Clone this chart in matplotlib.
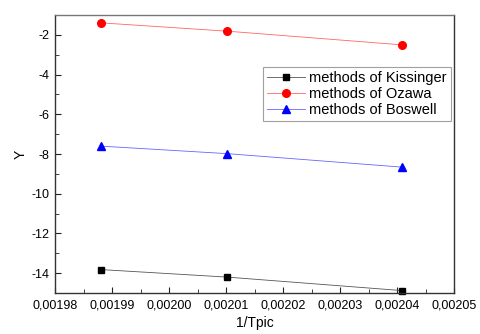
import matplotlib.pyplot as plt
from matplotlib.ticker import FuncFormatter, MultipleLocator

plt.rcParams['font.family'] = ['Liberation Sans', 'DejaVu Sans']

# 1/Tpic values
x = [0.001988, 0.0020102, 0.0020409]

kissinger = [-13.82, -14.2, -14.88]
ozawa = [-1.39, -1.81, -2.5]
boswell = [-7.6, -7.98, -8.66]


def comma_fmt(val, pos):
    return ('%.5f' % val).replace('.', ',')


fig = plt.figure(figsize=(4.8, 3.34), dpi=100)
ax = fig.add_axes([0.1146, 0.1228, 0.8314, 0.832])

ax.plot(x, kissinger, color='#555555', lw=0.6, marker='s', ms=5,
        mfc='black', mec='black', label='methods of Kissinger', clip_on=False)
ax.plot(x, ozawa, color='#ff6666', lw=0.6, marker='o', ms=5.5,
        mfc='red', mec='red', label='methods of Ozawa')
ax.plot(x, boswell, color='#6666ff', lw=0.6, marker='^', ms=6,
        mfc='blue', mec='blue', label='methods of Boswell')

ax.set_xlim(0.00198, 0.00205)
ax.set_ylim(-15, -1)
ax.xaxis.set_major_locator(MultipleLocator(0.00001))
ax.xaxis.set_minor_locator(MultipleLocator(0.000005))
ax.yaxis.set_major_locator(MultipleLocator(2))
ax.yaxis.set_minor_locator(MultipleLocator(1))
ax.xaxis.set_major_formatter(FuncFormatter(comma_fmt))
ax.yaxis.set_major_formatter(FuncFormatter(lambda v, p: '%d' % v))

ax.tick_params(which='both', direction='in', labelsize=9, color='#222222')
ax.tick_params(which='major', length=4)
ax.tick_params(which='minor', length=3)
ax.tick_params(axis='x', pad=5)
ax.tick_params(axis='y', pad=4)

for side in ['left', 'bottom', 'right']:
    ax.spines[side].set_color('#333333')
ax.spines['top'].set_color('#777777')
for sp in ax.spines.values():
    sp.set_linewidth(1.0)

ax.set_xlabel('1/Tpic', fontsize=10, labelpad=3)
ax.set_ylabel('Y', fontsize=10, labelpad=3)

leg = ax.legend(loc='upper right', bbox_to_anchor=(0.993, 0.813), fontsize=10.5,
                frameon=True, fancybox=False, handlelength=2.6,
                borderpad=0.3, labelspacing=0.12, handletextpad=0.3,
                borderaxespad=0)
leg.get_frame().set_edgecolor('#888888')
leg.get_frame().set_linewidth(0.8)

fig.savefig('out.png', dpi=100)
